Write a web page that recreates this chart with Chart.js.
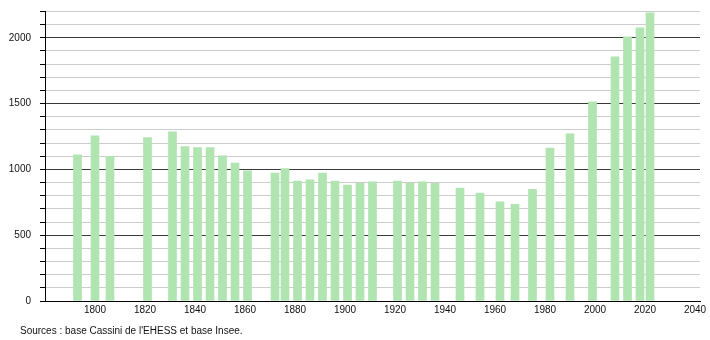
<!DOCTYPE html>
<html lang="fr">
<head>
  <meta charset="UTF-8">
  <title>Évolution démographique</title>
  <script src="https://cdn.jsdelivr.net/npm/chart.js"></script>
  <style>
    body { margin: 0; background: #fff; }
    .wrap { position: relative; width: 710px; height: 340px; }
    .source {
      position: absolute;
      left: 20px;
      top: 325px;
      margin: 0;
      font: 10px "Liberation Sans", Arial, sans-serif;
      color: #111;
    }
  </style>
</head>
<body>
  <div class="wrap">
    <canvas id="popChart" width="710" height="340"></canvas>
    <p class="source">Sources : base Cassini de l'EHESS et base Insee.</p>
  </div>

  <script>
    // census years and population
    const years = [1793, 1800, 1806, 1821, 1831, 1836, 1841, 1846, 1851, 1856, 1861,
                   1872, 1876, 1881, 1886, 1891, 1896, 1901, 1906, 1911,
                   1921, 1926, 1931, 1936, 1946, 1954, 1962, 1968, 1975,
                   1982, 1990, 1999, 2008, 2013, 2018, 2022];
    const population = [1110, 1255, 1100, 1242, 1285, 1173, 1166, 1166, 1103, 1049, 989,
                        973, 1006, 912, 920, 973, 912, 880, 895, 905,
                        912, 895, 905, 895, 859, 821, 753, 735, 849,
                        1163, 1270, 1513, 1855, 2008, 2076, 2190];
    const xTicks = [1800, 1820, 1840, 1860, 1880, 1900, 1920, 1940, 1960, 1980, 2000, 2020, 2040];
    const yLabels = [0, 500, 1000, 1500, 2000];

    const font = { family: '"Liberation Sans", Arial, sans-serif', size: 10 };

    new Chart(document.getElementById('popChart'), {
      type: 'bar',
      data: {
        datasets: [{
          data: years.map((y, i) => ({ x: y, y: population[i] })),
          backgroundColor: '#b0e4b0',
          barThickness: 8
        }]
      },
      options: {
        responsive: false,
        animation: false,
        layout: { padding: { top: 11.5, right: 10, bottom: 19, left: 0 } },
        plugins: {
          legend: { display: false },
          tooltip: { enabled: false }
        },
        scales: {
          x: {
            type: 'linear',
            min: 1780,
            max: 2042,
            offset: false,
            afterFit: s => {
              s.height = 20;
              s.paddingLeft = 0;
              s.paddingRight = 0;
            },
            afterBuildTicks: s => { s.ticks = xTicks.map(v => ({ value: v })); },
            grid: { display: false, drawTicks: false, offset: false },
            border: { color: '#000', width: 1 },
            ticks: {
              font: font,
              color: '#111',
              padding: 3,
              maxRotation: 0,
              callback: v => String(v)
            }
          },
          y: {
            min: 0,
            max: 2200,
            afterFit: s => {
              s.width = 45;
              s.paddingTop = 0;
              s.paddingBottom = 0;
            },
            ticks: {
              stepSize: 100,
              font: font,
              color: '#111',
              padding: 9,
              autoSkip: false,
              callback: v => yLabels.includes(v) ? String(v) : ''
            },
            grid: {
              color: c => c.tick && c.tick.value % 500 === 0 ? '#3a3a3a' : '#cccccc',
              tickColor: '#000',
              tickLength: 5
            },
            border: { color: '#000', width: 1 }
          }
        }
      }
    });
  </script>
</body>
</html>
